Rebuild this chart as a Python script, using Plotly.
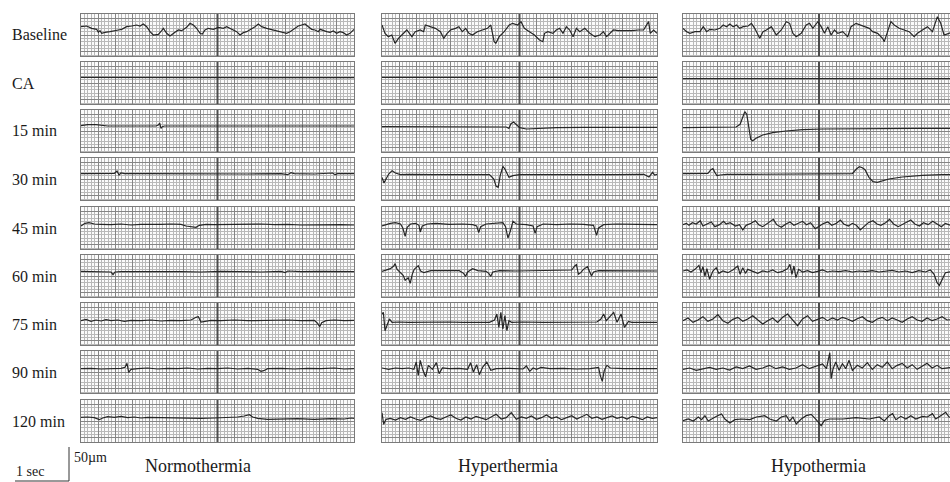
import numpy as np
import plotly.graph_objects as go

W, H = 950, 482

ROWS = ["Baseline", "CA", "15 min", "30 min", "45 min", "60 min", "75 min", "90 min", "120 min"]
CONDITIONS = ["Normothermia", "Hyperthermia", "Hypothermia"]
FS = 163.8            # samples per second
UM_PER_COUNT = 0.5    # amplitude per count (µm)
SEG_SEC = 5.0         # seconds per strip

# (sample index, amplitude counts)
NORMO_BASE = [(0,25),(17,27),(32,20),(47,17),(52,8),(57,13),(62,5),(72,8),(87,10),(102,12),(112,15),(122,17),(137,25),(152,27),(167,30),(177,27),(187,33),(197,25),(207,10),(217,0),(232,2),(242,13),(247,20),(257,5),(267,-3),(282,8),(292,15),(302,13),(312,20),(317,23),(327,35),(337,30),(347,20),(357,5),(364,3),(372,15),(382,20),(397,17),(412,23),(427,20),(437,25),(452,17),(467,10),(477,0),(487,7),(497,10),(507,15),(522,25),(532,33),(542,25),(557,20),(577,15),(592,10),(607,8),(617,5),(627,10),(637,17),(652,27),(662,30),(672,33),(682,25),(692,17),(702,15),(712,10),(717,17),(727,13),(737,10),(747,8),(757,12),(767,5),(777,10),(787,7),(797,0),(807,5),(819,17)]
HYPER_BASE = [(0,30),(9,5),(19,-5),(29,0),(39,-25),(49,-10),(59,0),(74,15),(89,-5),(99,10),(114,15),(124,10),(129,30),(144,25),(159,20),(174,10),(184,-10),(194,5),(204,15),(219,20),(229,25),(239,10),(249,20),(259,5),(269,0),(284,10),(299,15),(314,20),(324,30),(334,-20),(339,-25),(349,-5),(364,10),(379,30),(389,35),(404,30),(414,40),(424,20),(439,10),(454,0),(469,-15),(479,-20),(484,5),(494,10),(509,5),(519,15),(529,20),(539,5),(549,25),(559,15),(569,-5),(579,20),(589,10),(604,20),(619,5),(634,-5),(649,0),(659,10),(669,-5),(679,5),(689,15),(704,13),(724,12),(744,13),(764,15),(779,15),(794,40),(799,5),(809,15),(819,5)]
HYPO_BASE = [(0,20),(11,10),(21,5),(36,10),(51,10),(61,25),(71,10),(81,17),(96,15),(111,20),(121,30),(131,25),(141,33),(151,25),(161,30),(171,20),(181,25),(196,27),(206,35),(216,20),(231,-10),(241,10),(251,15),(266,25),(281,0),(296,15),(311,40),(321,35),(331,5),(341,-5),(356,5),(371,30),(381,35),(391,20),(406,40),(416,25),(426,5),(436,25),(446,0),(456,15),(466,5),(481,10),(496,-5),(506,25),(521,35),(536,30),(551,25),(561,20),(571,10),(586,5),(601,-10),(606,-20),(616,10),(626,40),(636,30),(651,20),(666,15),(681,10),(696,-5),(706,5),(721,15),(736,25),(751,10),(766,55),(776,35),(786,0),(801,5),(811,10),(819,8)]

NORMO_CA = [(0,17),(700,17),(740,16),(819,16)]
HYPER_CA = [(0,17),(819,17)]
HYPO_CA = [(0,13),(819,13)]

NORMO_15 = [(0,16),(20,19),(45,19),(60,17),(80,15),(120,15),(160,15),(200,14),(225,15),(232,18),(236,24),(240,8),(244,13),(250,15),(270,15),(320,15),(380,14),(420,15),(440,14),(460,15),(470,14),(480,15),(500,15),(560,15),(620,14),(680,15),(740,14),(780,15),(819,15)]
HYPER_15 = [(0,13),(80,13),(160,14),(240,13),(320,13),(360,13),(370,12),(378,8),(384,22),(392,27),(400,18),(410,10),(430,6),(470,8),(520,10),(600,11),(700,11),(819,11)]
HYPO_15 = [(0,10),(60,10),(120,11),(160,12),(172,20),(180,45),(186,58),(192,50),(198,10),(204,-25),(210,-29),(220,-22),(240,-12),(270,-5),(310,0),(360,4),(420,6),(500,7),(600,8),(700,8),(819,8)]

NORMO_30 = [(0,16),(40,16),(80,15),(100,17),(108,24),(114,12),(120,18),(130,16),(200,16),(300,15),(400,16),(500,15),(600,16),(620,13),(630,19),(640,16),(700,15),(755,18),(762,13),(770,16),(819,16)]
HYPER_30 = [(0,5),(6,-12),(12,0),(20,15),(30,25),(40,18),(55,13),(80,14),(150,13),(250,14),(320,13),(333,0),(340,-22),(346,-25),(352,10),(360,38),(366,30),(378,5),(390,10),(410,13),(500,14),(600,13),(700,13),(780,14),(795,6),(806,20),(812,12),(819,14)]
HYPO_30 = [(0,16),(40,16),(75,17),(84,28),(90,31),(96,20),(102,10),(112,12),(130,14),(200,14),(300,14),(400,14),(490,14),(510,16),(522,30),(531,37),(540,34),(548,28),(560,5),(572,-8),(585,-10),(600,-6),(620,0),(660,6),(720,11),(780,13),(819,13)]

NORMO_45 = [(0,6),(12,14),(24,16),(40,12),(60,11),(90,10),(120,12),(150,9),(180,11),(210,10),(240,11),(270,12),(300,11),(315,6),(330,3),(345,2),(355,8),(375,11),(400,10),(450,11),(500,10),(540,12),(580,10),(620,11),(660,9),(700,10),(740,11),(780,10),(819,9)]
HYPER_45 = [(0,6),(10,10),(25,14),(40,16),(55,12),(62,0),(69,-25),(75,2),(85,12),(100,14),(110,8),(114,-12),(120,6),(135,12),(160,14),(200,11),(240,12),(270,10),(282,6),(288,-14),(294,4),(310,12),(340,14),(360,16),(368,4),(375,-30),(382,-10),(390,20),(400,12),(430,10),(450,6),(456,-16),(462,4),(480,12),(520,10),(560,12),(600,11),(630,8),(639,-22),(645,0),(660,10),(700,12),(760,11),(819,10)]
HYPO_45 = [(0,10),(10,14),(18,8),(28,16),(40,12),(52,22),(60,6),(72,12),(85,18),(96,4),(110,10),(122,20),(130,12),(142,16),(158,6),(170,10),(180,-6),(190,8),(205,14),(218,22),(228,10),(240,4),(252,12),(262,18),(272,26),(282,10),(296,2),(310,12),(322,18),(334,8),(346,14),(360,20),(372,10),(384,16),(398,-2),(410,6),(424,14),(436,18),(448,8),(462,14),(474,24),(484,12),(498,6),(510,14),(522,8),(534,-6),(546,6),(558,16),(572,22),(584,12),(596,8),(610,16),(622,26),(634,12),(648,4),(660,10),(672,18),(686,24),(698,12),(712,6),(724,16),(738,10),(752,20),(764,12),(778,4),(790,14),(805,8),(819,12)]

NORMO_60 = [(0,14),(30,13),(60,14),(90,12),(96,4),(102,12),(120,13),(180,14),(240,13),(300,13),(360,12),(420,14),(480,13),(540,12),(600,14),(612,10),(620,15),(660,13),(720,14),(780,13),(819,13)]
HYPER_60 = [(0,14),(15,18),(25,22),(35,30),(39,37),(45,20),(55,10),(63,2),(69,-13),(78,-5),(84,-22),(90,5),(96,20),(108,31),(115,15),(125,10),(145,16),(170,16),(200,15),(230,16),(243,8),(249,-1),(255,12),(270,22),(285,16),(310,14),(318,8),(324,-1),(330,12),(350,16),(400,15),(450,16),(500,15),(540,17),(565,18),(574,30),(579,34),(585,5),(592,10),(600,20),(612,28),(624,0),(630,12),(645,16),(700,15),(760,16),(819,15)]
HYPO_60 = [(0,15),(12,18),(24,12),(36,20),(48,32),(54,10),(60,28),(66,0),(72,22),(80,-10),(90,15),(100,25),(108,8),(120,15),(135,10),(150,18),(165,30),(172,5),(180,25),(188,8),(195,20),(210,14),(225,8),(240,15),(255,12),(270,18),(285,10),(300,14),(315,22),(322,35),(328,5),(334,30),(340,-5),(348,20),(360,12),(375,16),(390,10),(405,14),(420,18),(435,12),(450,15),(470,13),(490,16),(510,12),(530,15),(550,13),(570,16),(590,12),(610,14),(630,17),(650,12),(670,15),(690,10),(710,16),(730,12),(745,18),(756,5),(765,-20),(772,-28),(780,-10),(790,10),(819,15)]

NORMO_75 = [(0,10),(15,14),(30,8),(45,12),(60,9),(75,13),(90,10),(110,12),(130,8),(150,11),(180,10),(210,12),(240,9),(270,11),(300,10),(330,12),(345,20),(352,22),(360,6),(370,8),(390,11),(420,10),(460,12),(500,10),(540,11),(580,10),(620,12),(660,10),(700,11),(710,2),(716,-8),(722,4),(735,10),(760,12),(790,10),(819,11)]
HYPER_75 = [(0,30),(4,35),(9,-20),(15,-5),(22,15),(30,5),(50,6),(80,5),(120,6),(160,5),(200,6),(240,5),(280,6),(320,5),(335,12),(342,30),(348,-10),(354,35),(360,-15),(366,25),(372,-20),(378,10),(386,5),(420,6),(480,5),(540,6),(600,5),(640,6),(652,15),(660,30),(668,10),(680,25),(690,35),(700,5),(712,30),(722,-10),(734,8),(744,5),(780,6),(819,5)]
HYPO_75 = [(0,10),(15,18),(30,5),(45,12),(60,22),(75,8),(90,15),(105,28),(120,10),(135,2),(150,14),(165,20),(180,8),(195,15),(210,25),(225,12),(240,0),(255,10),(270,18),(285,5),(300,20),(315,30),(330,12),(345,-5),(360,15),(375,25),(390,8),(405,15),(420,20),(435,10),(450,18),(465,12),(480,20),(495,15),(510,8),(525,16),(540,22),(555,10),(570,5),(585,15),(600,20),(615,10),(630,18),(645,12),(660,5),(675,15),(690,22),(705,12),(720,8),(735,18),(750,10),(765,15),(780,22),(795,12),(819,14)]

NORMO_90 = [(0,10),(30,11),(60,9),(90,10),(120,11),(132,14),(138,26),(143,-1),(150,8),(170,10),(200,12),(230,9),(260,11),(290,10),(320,12),(350,9),(380,11),(410,10),(440,12),(470,9),(500,11),(530,8),(540,2),(548,4),(560,10),(600,11),(640,9),(680,11),(720,10),(760,12),(790,9),(819,10)]
HYPER_90 = [(0,12),(20,8),(40,12),(60,10),(80,12),(95,8),(102,30),(108,-10),(114,35),(122,5),(130,-14),(138,20),(150,8),(162,28),(170,-5),(180,12),(200,10),(230,11),(255,8),(264,28),(272,0),(282,22),(290,-8),(300,15),(312,30),(324,5),(340,10),(380,11),(420,9),(430,18),(440,2),(450,12),(460,8),(474,14),(500,10),(540,11),(580,9),(620,10),(645,14),(650,-10),(656,-28),(662,5),(670,20),(680,12),(720,10),(770,11),(819,10)]
HYPO_90 = [(0,8),(20,12),(40,5),(60,10),(80,14),(100,8),(120,12),(140,6),(160,15),(180,10),(200,18),(220,8),(240,12),(260,20),(280,10),(300,15),(320,8),(340,12),(360,22),(380,10),(400,16),(420,24),(432,10),(438,40),(442,58),(446,-20),(452,10),(460,30),(470,5),(480,25),(490,10),(500,35),(510,5),(525,20),(540,12),(555,28),(570,8),(585,22),(600,14),(615,30),(630,10),(645,20),(660,26),(675,12),(690,22),(705,8),(720,18),(735,26),(750,12),(765,20),(780,10),(819,15)]

NORMO_120 = [(0,11),(20,12),(40,10),(55,4),(65,9),(80,13),(100,11),(120,14),(140,10),(160,12),(180,9),(200,11),(240,10),(280,9),(320,10),(360,8),(400,9),(440,10),(470,12),(490,15),(505,19),(515,12),(530,8),(560,5),(600,6),(650,7),(700,5),(750,7),(790,6),(810,9),(819,8)]
HYPER_120 = [(0,25),(5,-10),(12,5),(25,8),(40,3),(55,10),(70,5),(85,12),(100,6),(115,2),(130,10),(145,15),(160,8),(175,5),(190,12),(205,18),(220,8),(235,3),(250,12),(265,6),(280,14),(295,9),(310,4),(325,12),(340,20),(355,6),(370,10),(385,25),(400,5),(415,12),(430,8),(445,15),(460,5),(475,10),(490,18),(505,8),(520,12),(535,4),(550,10),(565,16),(580,6),(595,12),(610,20),(625,8),(640,12),(655,5),(670,10),(685,15),(700,8),(715,12),(730,6),(745,14),(760,10),(775,4),(790,12),(805,8),(819,10)]
HYPO_120 = [(0,1),(16,6),(31,0),(46,12),(56,4),(66,16),(76,0),(86,6),(101,14),(116,21),(126,6),(141,-6),(156,4),(176,6),(201,4),(221,12),(246,16),(261,6),(281,0),(296,12),(311,16),(321,0),(331,12),(341,-9),(356,6),(371,16),(386,20),(401,4),(416,-14),(426,2),(441,6),(481,6),(521,10),(561,6),(591,12),(606,0),(621,16),(631,22),(641,4),(656,14),(671,6),(686,16),(701,6),(721,14),(736,12),(751,22),(761,6),(776,16),(791,26),(801,12),(819,10)]

TRACES = {
    "Normothermia": [NORMO_BASE, NORMO_CA, NORMO_15, NORMO_30, NORMO_45, NORMO_60, NORMO_75, NORMO_90, NORMO_120],
    "Hyperthermia": [HYPER_BASE, HYPER_CA, HYPER_15, HYPER_30, HYPER_45, HYPER_60, HYPER_75, HYPER_90, HYPER_120],
    "Hypothermia": [HYPO_BASE, HYPO_CA, HYPO_15, HYPO_30, HYPO_45, HYPO_60, HYPO_75, HYPO_90, HYPO_120],
}

# ---- layout geometry (pixels) ----
COL_X = [(81, 354), (382, 657), (683, 950)]
COL_FULL_W = [273, 275, 272]        # strip width incl. part cut off by page edge
ROW_TOP = [14, 62, 110, 158, 207, 255, 303, 351, 400]
ROW_H = 42
Y_HALF = 31.5                        # µm

def px_x(x):
    return x / W

def px_y(y):
    return 1 - y / H

fig = go.Figure()
layout = dict(
    width=W, height=H, margin=dict(l=0, r=0, t=0, b=0),
    paper_bgcolor="white", plot_bgcolor="#fbfbfb", showlegend=False,
)
shapes = []
annotations = []

FINE = "#b9b9b9"
MAJOR = "#858585"
TRACE = "#262626"

k = 0
for r, row in enumerate(ROWS):
    for c, cond in enumerate(CONDITIONS):
        k += 1
        xa = "xaxis" if k == 1 else f"xaxis{k}"
        ya = "yaxis" if k == 1 else f"yaxis{k}"
        xref = "x" if k == 1 else f"x{k}"
        yref = "y" if k == 1 else f"y{k}"
        x0, x1 = COL_X[c]
        xmax = SEG_SEC * (x1 - x0) / COL_FULL_W[c]
        layout[xa] = dict(
            domain=[px_x(x0), px_x(x1)], range=[0, xmax], anchor=yref,
            showticklabels=False, ticks="", zeroline=False,
            showgrid=True, gridcolor=MAJOR, gridwidth=1, dtick=0.3125, tick0=0,
            minor=dict(dtick=0.0625, tick0=0, showgrid=True, gridcolor=FINE, gridwidth=1),
            showline=True, linecolor="#7a7a7a", linewidth=1, mirror=True,
            fixedrange=True,
        )
        top = ROW_TOP[r]
        layout[ya] = dict(
            domain=[px_y(top + ROW_H), px_y(top)], range=[-Y_HALF, Y_HALF], anchor=xref,
            showticklabels=False, ticks="", zeroline=False,
            showgrid=True, gridcolor=MAJOR, gridwidth=1, dtick=25, tick0=0,
            minor=dict(dtick=5, tick0=0, showgrid=True, gridcolor=FINE, gridwidth=1),
            showline=True, linecolor="#7a7a7a", linewidth=1, mirror=True,
            fixedrange=True,
        )
        # heavy centre marker line (drawn as a trace so it sits above the grid)
        fig.add_trace(go.Scatter(
            x=[SEG_SEC / 2, SEG_SEC / 2], y=[-Y_HALF, Y_HALF], mode="lines",
            line=dict(color="#4d4d4d", width=2), xaxis=xref, yaxis=yref,
            hoverinfo="skip",
        ))
        pts = TRACES[cond][r]
        idx = np.array([p[0] for p in pts], dtype=float)
        amp = np.array([p[1] for p in pts], dtype=float)
        fig.add_trace(go.Scatter(
            x=idx / FS, y=amp * UM_PER_COUNT, mode="lines",
            line=dict(color=TRACE, width=1.2), xaxis=xref, yaxis=yref,
            hoverinfo="skip",
        ))

SERIF = "Liberation Serif, Times New Roman, serif"
for r, row in enumerate(ROWS):
    annotations.append(dict(text=row, x=px_x(10), y=px_y(ROW_TOP[r] + ROW_H / 2),
                            xref="paper", yref="paper", xanchor="left", yanchor="middle",
                            showarrow=False, font=dict(family=SERIF, size=16, color="#1a1a1a")))

TITLE_X = [198, 508, 818]
for c, cond in enumerate(CONDITIONS):
    annotations.append(dict(text=cond, x=px_x(TITLE_X[c]), y=px_y(466),
                            xref="paper", yref="paper", xanchor="center", yanchor="middle",
                            showarrow=False, font=dict(family=SERIF, size=18, color="#1a1a1a")))

# scale bar
annotations.append(dict(text="1 sec", x=px_x(14), y=px_y(471), xref="paper", yref="paper",
                        xanchor="left", yanchor="middle", showarrow=False,
                        font=dict(family=SERIF, size=14, color="#1a1a1a")))
annotations.append(dict(text="50µm", x=px_x(72), y=px_y(457), xref="paper", yref="paper",
                        xanchor="left", yanchor="middle", showarrow=False,
                        font=dict(family=SERIF, size=14, color="#1a1a1a")))
shapes.append(dict(type="line", xref="paper", yref="paper",
                   x0=px_x(69), x1=px_x(69), y0=px_y(447), y1=px_y(481),
                   line=dict(color="#333333", width=1)))
shapes.append(dict(type="line", xref="paper", yref="paper",
                   x0=px_x(15), x1=px_x(69), y0=px_y(481), y1=px_y(481),
                   line=dict(color="#333333", width=1)))

layout["shapes"] = shapes
layout["annotations"] = annotations
fig.update_layout(**layout)
fig.write_html("out.html")
